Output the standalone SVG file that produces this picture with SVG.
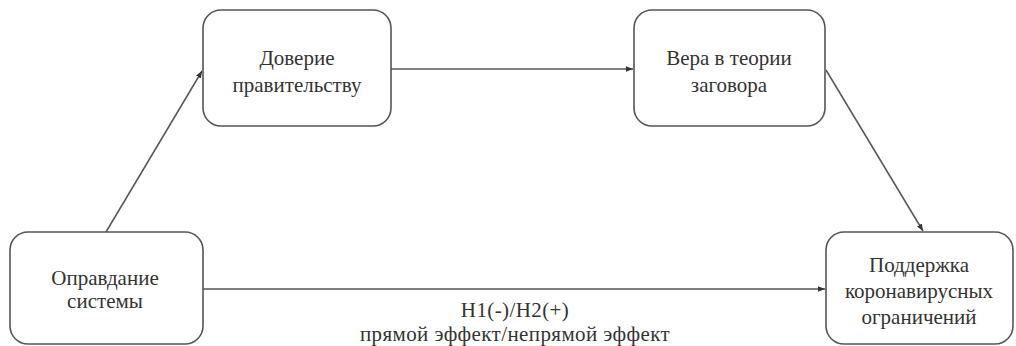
<svg xmlns="http://www.w3.org/2000/svg" width="1016" height="346" viewBox="0 0 1016 346">
<style>
.box{fill:#fff;stroke:#555;stroke-width:1.6}
.t{font-family:'Liberation Serif','DejaVu Serif',serif;font-size:21px;fill:#333;text-anchor:middle}
.l{letter-spacing:0.4px}
.c{fill:none;stroke:#555;stroke-width:1.5}
</style>
<defs>
<marker id="ah" viewBox="0 0 10 10" refX="10" refY="5" markerWidth="7" markerHeight="7" markerUnits="userSpaceOnUse" orient="auto">
<path d="M0,1 L10,5 L0,9 Z" fill="#333"/>
</marker>
</defs>
<rect width="1016" height="346" fill="#fff"/>
<g id="connectors">
<line class="c" x1="106" y1="232" x2="202" y2="71" marker-end="url(#ah)"/>
<line class="c" x1="391" y1="69" x2="633" y2="69" marker-end="url(#ah)"/>
<line class="c" x1="826" y1="70" x2="923" y2="231" marker-end="url(#ah)"/>
<line class="c" x1="203" y1="289" x2="825" y2="289" marker-end="url(#ah)"/>
<text class="t l" x="515" y="317">H1(-)/H2(+)</text>
<text class="t l" x="515" y="341">прямой эффект/непрямой эффект</text>
</g>
<g id="node-system">
<rect class="box" x="10" y="232" width="193" height="112" rx="18"/>
<text class="t" x="105" y="285">Оправдание</text>
<text class="t" x="105" y="308">системы</text>
</g>
<g id="node-trust">
<rect class="box" x="203" y="10" width="188" height="116" rx="18"/>
<text class="t" x="297" y="65">Доверие</text>
<text class="t" x="297" y="92">правительству</text>
</g>
<g id="node-conspiracy">
<rect class="box" x="634" y="10" width="191" height="116" rx="18"/>
<text class="t" x="729" y="65">Вера в теории</text>
<text class="t" x="729" y="92">заговора</text>
</g>
<g id="node-support">
<rect class="box" x="826" y="232" width="187" height="112" rx="18"/>
<text class="t" x="919" y="272">Поддержка</text>
<text class="t" x="919" y="298">коронавирусных</text>
<text class="t" x="919" y="324">ограничений</text>
</g>
</svg>
